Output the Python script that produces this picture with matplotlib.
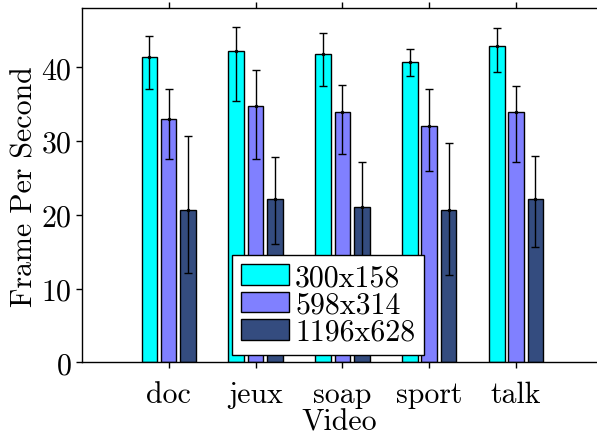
import matplotlib
matplotlib.use("Agg")
import matplotlib.pyplot as plt
import numpy as np

categories = ["doc", "jeux", "soap", "sport", "talk"]
series_names = ["300x158", "598x314", "1196x628"]
colors = ["#00FFFF", "#8080FF", "#344C7F"]

means = {
    "300x158":  [41.4, 42.2, 41.8, 40.7, 42.9],
    "598x314":  [33.0, 34.7, 33.9, 32.0, 34.0],
    "1196x628": [20.6, 22.1, 21.0, 20.6, 22.2],
}
err_upper = {
    "300x158":  [44.2, 45.5, 44.6, 42.5, 45.3],
    "598x314":  [37.0, 39.7, 37.6, 37.1, 37.5],
    "1196x628": [30.7, 27.8, 27.2, 29.8, 28.0],
}
err_lower = {
    "300x158":  [37.1, 35.4, 37.5, 38.8, 39.3],
    "598x314":  [27.5, 27.5, 28.2, 25.9, 27.1],
    "1196x628": [12.1, 16.0, 14.1, 11.8, 15.7],
}
yticks = [0, 10, 20, 30, 40]

plt.rcParams["font.family"] = "cmr10"
plt.rcParams["axes.formatter.use_mathtext"] = True
plt.rcParams["mathtext.fontset"] = "cm"

FS = 21.5
fig = plt.figure(figsize=(5.97, 4.39), dpi=100)
# axes runs to the right edge of the picture (cropped original)
ax = fig.add_axes([0.1369, 0.1724, 0.8631, 0.8064])

x = np.arange(1, len(categories) + 1)
offsets = [-0.222, 0.0, 0.222]
width = 0.18
for name, col, off in zip(series_names, colors, offsets):
    m = np.array(means[name])
    lo = m - np.array(err_lower[name])
    hi = np.array(err_upper[name]) - m
    ax.bar(x + off, m, width, color=col, edgecolor="black", linewidth=1.0,
           label=name, zorder=2)
    ax.errorbar(x + off, m, yerr=[lo, hi], fmt=".", color="black",
                markersize=3, elinewidth=1.0, capsize=3, capthick=1.0, zorder=3)

ax.set_xlim(0, 5.93)
ax.set_ylim(0, 48)
ax.set_xticks(x)
ax.set_xticklabels(categories)
ax.set_yticks(yticks)
ax.tick_params(axis="both", direction="out", length=4, width=1.0,
               labelsize=FS, top=True, right=False)
ax.tick_params(axis="y", pad=3)
ax.tick_params(axis="x", pad=9)
ax.spines["right"].set_visible(False)
for s in ax.spines.values():
    s.set_linewidth(1.0)

ax.set_xlabel("Video", fontsize=FS, labelpad=0)
ax.set_ylabel("Frame Per Second", fontsize=FS, labelpad=2)

leg = ax.legend(loc="lower left", bbox_to_anchor=(0.2923, 0.0212),
                borderaxespad=0, fontsize=FS, fancybox=False,
                edgecolor="black", framealpha=1, handlelength=1.6,
                handleheight=0.67, labelspacing=0.0, borderpad=0.3,
                handletextpad=0.2)
leg.get_frame().set_linewidth(1.0)

fig.savefig("out.png", dpi=100)
